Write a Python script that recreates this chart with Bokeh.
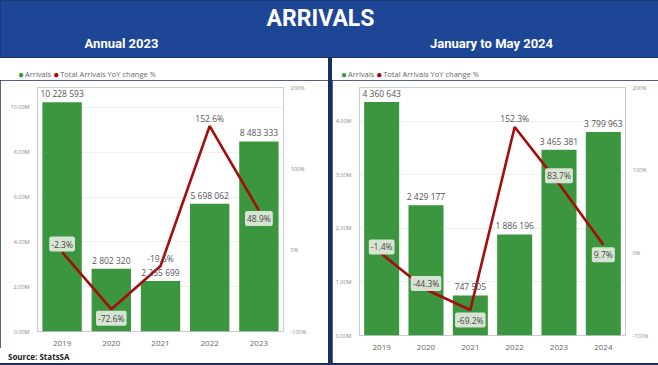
from bokeh.plotting import figure
from bokeh.models import (Range1d, LinearAxis, FixedTicker, PrintfTickFormatter,
                          CustomJSTickFormatter, Label, ColumnDataSource,
                          Spacer, Div)
from bokeh.layouts import column, row
from bokeh.core.properties import value
from bokeh.embed import file_html
from bokeh.resources import INLINE

# ---------------- data ----------------
years_a = ["2019", "2020", "2021", "2022", "2023"]
arrivals_a = [10228593, 2802320, 2255699, 5698062, 8483333]
yoy_a = [-2.3, -72.6, -19.5, 152.6, 48.9]

years_b = ["2019", "2020", "2021", "2022", "2023", "2024"]
arrivals_b = [4360643, 2429177, 747505, 1886196, 3465381, 3799963]
yoy_b = [-1.4, -44.3, -69.2, 152.3, 83.7, 9.7]

left_ticks_a = [0, 2000000, 4000000, 6000000, 8000000, 10000000]
left_ticks_b = [0, 1000000, 2000000, 3000000, 4000000]
pct_ticks = [-100, 0, 100, 200]

title = "ARRIVALS"
subtitle_a = "Annual 2023"
subtitle_b = "January to May 2024"
legend_labels = ["Arrivals", "Total Arrivals YoY change %"]
source_text = "Source: StatsSA"

# ---------------- styles ----------------
GREEN = "#3b963f"
RED = "#a50d0d"
DOT_RED = "#b00000"
BLUE = "#1d4696"
NAVY = "#182f5f"
FONT = "Open Sans"

# label placement (pixel offset, boxed?)
place_a = [(-8, True), (9, True), (-8, False), (-8, False), (8, True)]
place_b = [(-7, True), (-6, True), (10, True), (-8, False), (-8, True), (10, True)]


def fmt_num(v):
    return f"{v:,}".replace(",", " ")


def blank_fig(W, H, fill="white"):
    f = figure(width=W, height=H, x_range=Range1d(0, W), y_range=Range1d(0, H),
               toolbar_location=None, output_backend="svg", title=None,
               min_border=0, background_fill_color=fill, border_fill_color=fill,
               outline_line_color=None)
    f.axis.visible = False
    f.grid.visible = False
    return f


def legend_div(W, H, pad_left):
    dot = "font-size:10px;margin-right:1px;vertical-align:-1px"
    html = (f"<div style='font-family:\"{FONT}\";font-size:7.5px;color:#666666;"
            f"white-space:nowrap;padding:11px 0 0 {pad_left}px;line-height:10px'>"
            f"<span style='color:{GREEN};{dot}'>&#9679;</span>"
            f"{legend_labels[0]} "
            f"<span style='color:{DOT_RED};{dot}'>&#9679;</span>"
            f"{legend_labels[1]}</div>")
    return Div(text=html, width=W, height=H,
               styles={"background-color": "white", "margin": "0",
                       "overflow": "hidden"})


def source_div(W, H):
    html = (f"<div style='font-family:\"{FONT}\";font-size:8px;font-weight:bold;"
            f"color:#222222;white-space:nowrap;padding:2px 0 0 8px;"
            f"line-height:10px'>{source_text}</div>")
    return Div(text=html, width=W, height=H,
               styles={"background-color": "white", "margin": "0",
                       "overflow": "hidden"})


def make_chart(years, arrivals, yoy, ymax, lticks, W, H, bl, br, bt, bb,
               bar_w, place):
    p = figure(x_range=years, y_range=Range1d(0, ymax), width=W, height=H,
               output_backend="svg", toolbar_location=None, title=None,
               min_border_left=bl, min_border_right=br, min_border_top=bt,
               min_border_bottom=bb, border_fill_color="white",
               background_fill_color="white", outline_line_color=None)
    p.extra_y_ranges = {"pct": Range1d(-100, 200)}

    src = ColumnDataSource(dict(year=years, arr=arrivals, yoy=yoy,
                                arr_lbl=[fmt_num(v) for v in arrivals]))
    p.vbar(x="year", top="arr", width=bar_w, source=src, fill_color=GREEN,
           line_color=None)
    p.line(x="year", y="yoy", y_range_name="pct", source=src,
           line_color=RED, line_width=2.6)

    p.text(x="year", y="arr", text="arr_lbl", source=src, y_offset=-3,
           text_align="center", text_baseline="bottom",
           text_font=value(FONT), text_font_size="8.5px", text_color="#555555")

    boxed = dict(year=[], yoy=[], lbl=[], off=[])
    plain = dict(year=[], yoy=[], lbl=[], off=[])
    for yr, v, (off, box) in zip(years, yoy, place):
        d = boxed if box else plain
        d["year"].append(yr)
        d["yoy"].append(v)
        d["lbl"].append(f"{v:.1f}%")
        d["off"].append(off)
    p.text(x="year", y="yoy", text="lbl", y_offset="off", y_range_name="pct",
           source=ColumnDataSource(boxed), text_align="center",
           text_baseline="middle", text_font=value(FONT),
           text_font_size="8.5px", text_color="#444444",
           background_fill_color="#e4ece0", background_fill_alpha=0.92,
           padding=2, border_radius=2)
    p.text(x="year", y="yoy", text="lbl", y_offset="off", y_range_name="pct",
           source=ColumnDataSource(plain), text_align="center",
           text_baseline="middle", text_font=value(FONT),
           text_font_size="8.5px", text_color="#555555")

    # axes
    p.xaxis.axis_line_color = None
    p.xaxis.major_tick_line_color = None
    p.xaxis.minor_tick_line_color = None
    p.xaxis.major_label_text_font = FONT
    p.xaxis.major_label_text_font_size = "8px"
    p.xaxis.major_label_text_color = "#666666"
    p.xaxis.major_label_standoff = 3

    p.yaxis.ticker = FixedTicker(ticks=lticks)
    p.yaxis.formatter = CustomJSTickFormatter(
        code="return (tick/1000000).toFixed(2) + 'M';")
    p.yaxis.axis_line_color = None
    p.yaxis.major_tick_line_color = None
    p.yaxis.minor_tick_line_color = None
    p.yaxis.major_label_text_font = FONT
    p.yaxis.major_label_text_font_size = "5.5px"
    p.yaxis.major_label_text_color = "#888888"
    p.yaxis.major_label_standoff = 2

    ax = LinearAxis(y_range_name="pct", ticker=FixedTicker(ticks=pct_ticks),
                    formatter=PrintfTickFormatter(format="%d%%"))
    ax.axis_line_color = None
    ax.major_tick_line_color = None
    ax.minor_tick_line_color = None
    ax.major_label_text_font = FONT
    ax.major_label_text_font_size = "5.5px"
    ax.major_label_text_color = "#888888"
    ax.major_label_standoff = 1
    p.add_layout(ax, "right")

    p.xgrid.visible = False
    p.ygrid.ticker = FixedTicker(ticks=lticks)
    p.ygrid.grid_line_color = "#efefef"
    return p


# left panel: legend strip, chart, source strip
leg1 = legend_div(328, 22, 18)
p1 = make_chart(years_a, arrivals_a, yoy_a, 10889000, left_ticks_a,
                328, 268, 37, 45, 7, 16, 0.8, place_a)
src1 = source_div(328, 15)

# right panel
leg2 = legend_div(326, 22, 9)
p2 = make_chart(years_b, arrivals_b, yoy_b, 4629000, left_ticks_b,
                326, 283, 24, 33, 7, 28, 0.79, place_b)

# header
h = blank_fig(658, 57, BLUE)
h.add_layout(Label(x=320, y=39, x_units="screen", y_units="screen", text=title,
                   text_align="center", text_baseline="middle",
                   text_font="Roboto", text_font_size="23px",
                   text_font_style="bold", text_color="white"))
h.add_layout(Label(x=121, y=14, x_units="screen", y_units="screen", text=subtitle_a,
                   text_align="center", text_baseline="middle",
                   text_font="Roboto", text_font_size="13px",
                   text_font_style="bold", text_color="white"))
h.add_layout(Label(x=491, y=14, x_units="screen", y_units="screen", text=subtitle_b,
                   text_align="center", text_baseline="middle",
                   text_font="Roboto", text_font_size="13px",
                   text_font_style="bold", text_color="white"))

layout = column(h, Spacer(height=1),
                row(column(leg1, p1, src1), Spacer(width=4), column(leg2, p2)),
                Spacer(height=2), styles={"background-color": NAVY})

open("out.html", "w").write(file_html(layout, INLINE))
